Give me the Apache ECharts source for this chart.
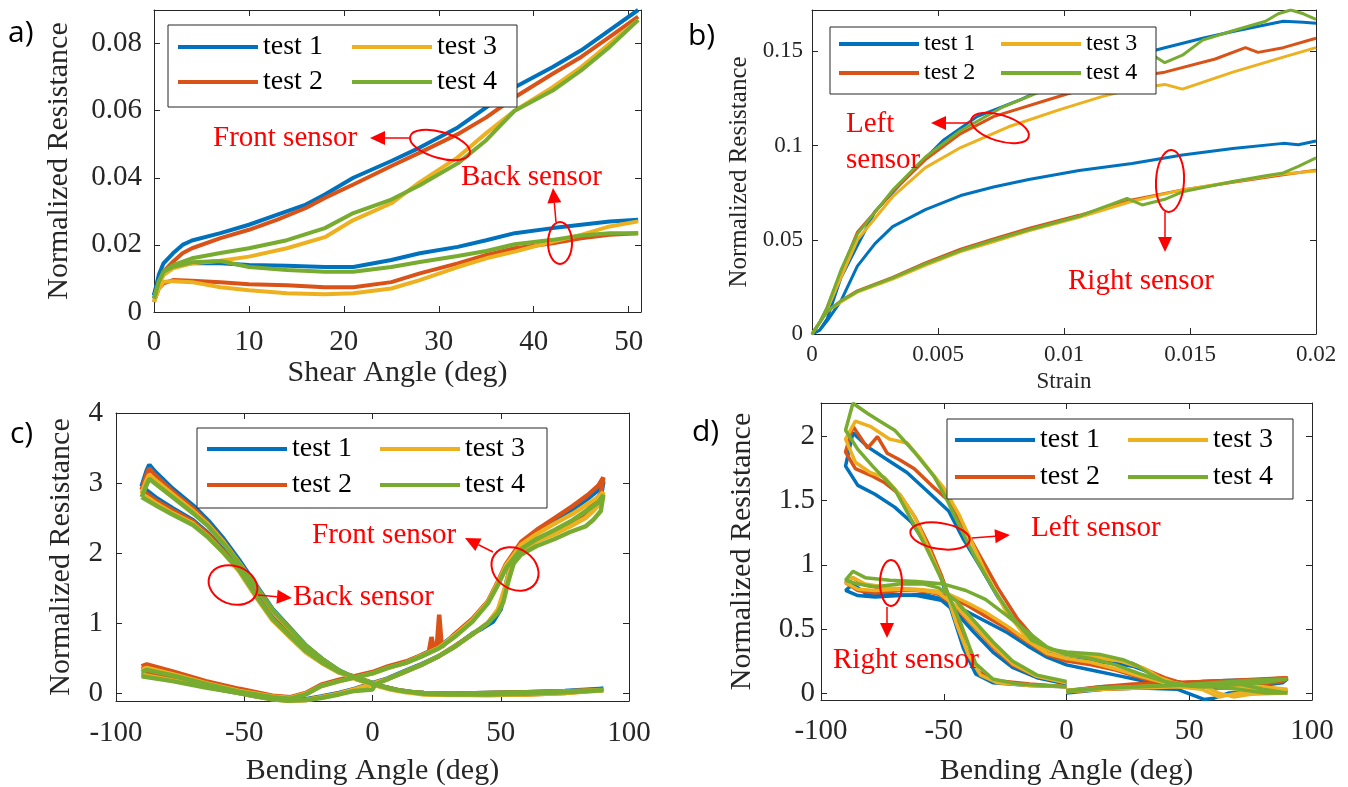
<!DOCTYPE html>
<html>
<head>
<meta charset="utf-8">
<script src="https://cdn.jsdelivr.net/npm/echarts@6/dist/echarts.min.js"></script>
<style>
html, body { margin: 0; padding: 0; background: #fff; }
#chart { width: 1348px; height: 787px; }
</style>
</head>
<body>
<div id="chart"></div>
<script>
var colors = ['#0072BD', '#D95319', '#EDB120', '#77AC30'];
var testNames = ['test 1', 'test 2', 'test 3', 'test 4'];

// a) shear angle (deg) vs normalized resistance
var aFront1 = [[0,0.005],[0.5,0.011],[1,0.0145],[2,0.0175],[3,0.02],[4,0.0213],[7,0.0235],[10,0.026],[13,0.029],[16,0.032],[18,0.035],[21,0.04],[25,0.045],[28,0.049],[32,0.055],[35,0.061],[38,0.067],[42,0.073],[45,0.078],[48,0.084],[51,0.09]];
var aFront2 = [[0,0.004],[0.5,0.009],[1,0.012],[2,0.015],[3,0.0175],[4,0.019],[7,0.022],[10,0.0245],[13,0.0275],[16,0.031],[18,0.034],[21,0.038],[25,0.0435],[28,0.0475],[32,0.053],[35,0.058],[38,0.064],[42,0.071],[45,0.076],[48,0.082],[51,0.088]];
var aFront3 = [[0,0.003],[0.5,0.008],[1,0.011],[2,0.013],[4,0.0145],[7,0.0153],[10,0.0165],[14,0.019],[18,0.0223],[21,0.0274],[25,0.0324],[28,0.0387],[32,0.0461],[35,0.0533],[38,0.06],[42,0.067],[45,0.073],[48,0.08],[51,0.087]];
var aFront4 = [[0,0.004],[0.5,0.009],[1,0.012],[2,0.014],[4,0.016],[7,0.0176],[10,0.019],[14,0.0214],[18,0.025],[21,0.0295],[25,0.0335],[28,0.0378],[32,0.0443],[35,0.0512],[38,0.06],[42,0.066],[45,0.072],[48,0.079],[51,0.087]];
var aBack1 = [[0,0.005],[0.5,0.01],[1,0.012],[2,0.014],[4,0.0145],[7,0.0145],[10,0.014],[14,0.0138],[18,0.0134],[21,0.0134],[25,0.0155],[28,0.0175],[32,0.0194],[35,0.0214],[38,0.0235],[42,0.025],[45,0.026],[48,0.027],[51,0.0275]];
var aBack2 = [[0,0.003],[0.5,0.007],[1,0.0085],[2,0.0095],[4,0.0093],[7,0.0089],[10,0.0083],[14,0.008],[18,0.0074],[21,0.0074],[25,0.0089],[28,0.0115],[32,0.0145],[35,0.017],[38,0.019],[42,0.0205],[45,0.022],[48,0.023],[51,0.0235]];
var aBack3 = [[0,0.003],[0.5,0.007],[1,0.009],[2,0.0092],[4,0.0089],[7,0.0074],[10,0.0065],[14,0.0056],[18,0.0053],[21,0.0056],[25,0.007],[28,0.0095],[32,0.0134],[35,0.016],[38,0.018],[42,0.021],[45,0.023],[48,0.0255],[51,0.027]];
var aBack4 = [[0,0.004],[0.5,0.009],[1,0.012],[2,0.0135],[4,0.0148],[7,0.0152],[10,0.0134],[14,0.0125],[18,0.012],[21,0.012],[25,0.0134],[28,0.0149],[32,0.0167],[35,0.0182],[38,0.0202],[42,0.0215],[45,0.0228],[48,0.0235],[51,0.0235]];

// b) strain vs normalized resistance
var bLeft1 = [[0,0],[0.0003,0.002],[0.0006,0.008],[0.00115,0.03],[0.0018,0.047],[0.0025,0.065],[0.00385,0.0846],[0.0052,0.1027],[0.00655,0.1154],[0.0083,0.1245],[0.01,0.135],[0.012,0.145],[0.014,0.152],[0.0155,0.157],[0.0167,0.1606],[0.0187,0.166],[0.0195,0.1655],[0.02,0.165]];
var bLeft2 = [[0,0],[0.0003,0.006],[0.0006,0.014],[0.00115,0.033],[0.0018,0.054],[0.0032,0.0755],[0.0045,0.0926],[0.0059,0.1064],[0.0072,0.1154],[0.0094,0.1245],[0.011,0.131],[0.0125,0.136],[0.014,0.139],[0.016,0.146],[0.0172,0.152],[0.0177,0.1495],[0.0187,0.152],[0.02,0.157]];
var bLeft3 = [[0,0],[0.0003,0.006],[0.0006,0.013],[0.00115,0.03],[0.0018,0.05],[0.0032,0.0729],[0.0045,0.0883],[0.0059,0.099],[0.0078,0.11],[0.0098,0.119],[0.0115,0.126],[0.0127,0.13],[0.014,0.1325],[0.0147,0.13],[0.0167,0.139],[0.0187,0.147],[0.02,0.152]];
var bLeft4 = [[0,0],[0.0003,0.006],[0.0006,0.014],[0.00115,0.034],[0.0018,0.053],[0.0032,0.0764],[0.0045,0.094],[0.0059,0.108],[0.0075,0.12],[0.0093,0.13],[0.011,0.138],[0.0125,0.146],[0.0133,0.15],[0.014,0.144],[0.0147,0.148],[0.0155,0.156],[0.0167,0.161],[0.018,0.166],[0.0185,0.17],[0.019,0.172],[0.0195,0.17],[0.02,0.167]];
var bRight1 = [[0,0],[0.0003,0.002],[0.0006,0.007],[0.00115,0.0176],[0.0018,0.036],[0.0025,0.048],[0.0032,0.057],[0.0045,0.066],[0.0059,0.0735],[0.0072,0.078],[0.0086,0.082],[0.0106,0.0868],[0.0127,0.0905],[0.0147,0.095],[0.0167,0.0985],[0.0187,0.1012],[0.0193,0.1005],[0.02,0.1025]];
var bRight2 = [[0,0],[0.0003,0.006],[0.0006,0.012],[0.00115,0.0176],[0.0018,0.0229],[0.0032,0.03],[0.0045,0.0378],[0.0059,0.045],[0.0072,0.0505],[0.0086,0.056],[0.0106,0.063],[0.0127,0.0712],[0.0147,0.0765],[0.0167,0.0805],[0.0187,0.0845],[0.02,0.087]];
var bRight3 = [[0,0],[0.0003,0.006],[0.0006,0.012],[0.00115,0.017],[0.0018,0.0222],[0.0032,0.0292],[0.0045,0.0365],[0.0059,0.0437],[0.0072,0.049],[0.0086,0.0548],[0.0106,0.062],[0.0127,0.0705],[0.0147,0.0765],[0.0167,0.0808],[0.0187,0.085],[0.02,0.0865]];
var bRight4 = [[0,0],[0.0003,0.006],[0.0006,0.012],[0.00115,0.0176],[0.0018,0.0226],[0.0032,0.0298],[0.0045,0.0372],[0.0059,0.0443],[0.0072,0.0498],[0.0086,0.0553],[0.0106,0.0625],[0.012,0.0695],[0.0125,0.072],[0.0131,0.0685],[0.014,0.0715],[0.0147,0.0755],[0.0167,0.081],[0.018,0.084],[0.0187,0.0855],[0.0193,0.089],[0.02,0.0935]];

// c) bending angle (deg) vs normalized resistance
var cFront1 = [[-90,0.34],[-88,0.37],[-78,0.28],[-65,0.15],[-52,0.04],[-39,-0.05],[-32,-0.07],[-26,-0.01],[-20,0.11],[-13,0.18],[-7,0.23],[0,0.29],[6,0.37],[13,0.44],[19,0.54],[26,0.66],[32,0.83],[39,1.04],[45,1.3],[49,1.58],[52,1.82],[58,2.14],[64,2.3],[71,2.46],[78,2.62],[84,2.78],[88,2.9],[90,3.02],[89,2.8],[86,2.66],[83,2.54],[77,2.4],[71,2.3],[64,2.2],[58,2.08],[54,1.85],[52,1.55],[50,1.2],[47,1.02],[43,0.93],[39,0.85],[32,0.66],[26,0.53],[19,0.41],[13,0.32],[6,0.21],[0,0.14],[-7,0.06],[-13,0],[-20,-0.05],[-26,-0.09],[-33,-0.1],[-39,-0.08],[-45,-0.05],[-52,0],[-65,0.09],[-78,0.19],[-90,0.26]];
var cFront2 = [[-90,0.38],[-88,0.41],[-78,0.31],[-65,0.17],[-52,0.06],[-39,-0.04],[-32,-0.06],[-26,0],[-20,0.12],[-13,0.19],[-7,0.24],[0,0.3],[6,0.38],[13,0.45],[19,0.54],[22,0.59],[23,0.8],[24,0.61],[25,0.63],[26,1.12],[27,0.66],[32,0.84],[39,1.06],[45,1.31],[49,1.6],[52,1.84],[58,2.16],[64,2.33],[71,2.5],[78,2.67],[84,2.83],[88,2.96],[90,3.08],[89,2.85],[86,2.7],[83,2.58],[77,2.42],[71,2.3],[64,2.18],[58,2.02],[54,1.8],[52,1.5],[49,1.18],[45,1],[39,0.84],[32,0.67],[26,0.53],[19,0.4],[13,0.31],[6,0.2],[0,0.13],[-7,0.05],[-13,-0.01],[-20,-0.06],[-26,-0.1],[-33,-0.1],[-39,-0.08],[-45,-0.04],[-52,0.01],[-65,0.11],[-78,0.21],[-90,0.3]];
var cFront3 = [[-90,0.33],[-88,0.36],[-78,0.27],[-65,0.14],[-52,0.03],[-39,-0.05],[-32,-0.07],[-26,-0.01],[-20,0.1],[-13,0.17],[-7,0.22],[0,0.28],[6,0.36],[13,0.43],[19,0.53],[26,0.65],[32,0.82],[39,1.04],[45,1.3],[49,1.58],[52,1.82],[58,2.12],[64,2.27],[71,2.42],[78,2.56],[84,2.7],[88,2.8],[90,2.87],[89,2.72],[86,2.6],[83,2.5],[77,2.38],[71,2.27],[64,2.17],[58,2.03],[54,1.82],[52,1.55],[49,1.2],[45,1],[39,0.84],[32,0.66],[26,0.53],[19,0.4],[13,0.31],[6,0.2],[0,0.13],[-7,0.05],[-13,-0.01],[-20,-0.06],[-26,-0.1],[-33,-0.11],[-39,-0.09],[-45,-0.05],[-52,0],[-65,0.09],[-78,0.18],[-90,0.26]];
var cFront4 = [[-90,0.3],[-88,0.33],[-78,0.25],[-65,0.13],[-52,0.02],[-39,-0.06],[-32,-0.08],[-26,-0.02],[-20,0.1],[-13,0.17],[-7,0.22],[0,0.28],[6,0.36],[13,0.43],[19,0.52],[26,0.64],[32,0.8],[39,1.02],[45,1.28],[49,1.55],[52,1.78],[58,2.06],[64,2.2],[71,2.33],[78,2.47],[84,2.62],[88,2.72],[90,2.83],[89,2.6],[86,2.47],[83,2.38],[77,2.3],[71,2.2],[64,2.1],[58,1.98],[55,1.85],[53,1.6],[51,1.3],[49,1.15],[45,1],[39,0.84],[32,0.66],[26,0.53],[19,0.4],[13,0.31],[6,0.2],[1,0.12],[0,0.05],[-7,0.03],[-13,-0.02],[-20,-0.07],[-26,-0.1],[-33,-0.11],[-39,-0.09],[-45,-0.05],[-52,0],[-65,0.08],[-78,0.17],[-90,0.24]];
var cBack1 = [[-90,2.95],[-88,3.18],[-87,3.26],[-85,3.17],[-78,2.92],[-70,2.68],[-64,2.46],[-58,2.2],[-52,1.9],[-45,1.52],[-39,1.2],[-32,0.92],[-26,0.68],[-19,0.47],[-13,0.32],[-6,0.2],[0,0.13],[7,0.06],[13,0.02],[20,0],[30,-0.01],[45,0],[60,0.01],[75,0.03],[90,0.06],[75,0.01],[60,-0.01],[45,-0.02],[30,-0.02],[20,-0.01],[10,0.04],[3,0.1],[0,0.14],[-6,0.22],[-13,0.3],[-19,0.43],[-26,0.6],[-32,0.82],[-39,1.07],[-45,1.38],[-52,1.77],[-58,2.04],[-64,2.28],[-70,2.47],[-78,2.64],[-84,2.78],[-90,2.95]];
var cBack2 = [[-90,2.9],[-88,3.13],[-87,3.21],[-85,3.12],[-78,2.88],[-70,2.64],[-64,2.42],[-58,2.16],[-52,1.86],[-45,1.49],[-39,1.17],[-32,0.9],[-26,0.67],[-19,0.46],[-13,0.31],[-6,0.2],[0,0.13],[7,0.06],[13,0.02],[20,0],[30,-0.01],[45,0],[60,0.01],[75,0.02],[90,0.05],[75,0],[60,-0.02],[45,-0.03],[30,-0.02],[20,-0.01],[10,0.04],[3,0.1],[0,0.14],[-6,0.22],[-13,0.3],[-19,0.42],[-26,0.59],[-32,0.8],[-39,1.05],[-45,1.36],[-52,1.75],[-58,2.02],[-64,2.26],[-70,2.45],[-78,2.61],[-84,2.74],[-90,2.9]];
var cBack3 = [[-90,2.85],[-88,3.05],[-87,3.12],[-85,3.05],[-78,2.84],[-70,2.6],[-64,2.4],[-58,2.15],[-52,1.86],[-45,1.5],[-39,1.18],[-32,0.9],[-26,0.67],[-19,0.46],[-13,0.31],[-6,0.19],[0,0.12],[7,0.05],[13,0.01],[20,-0.01],[30,-0.02],[45,-0.01],[60,0],[75,0.02],[90,0.04],[75,0],[60,-0.02],[45,-0.03],[30,-0.03],[20,-0.02],[10,0.03],[3,0.09],[0,0.13],[-6,0.21],[-13,0.29],[-19,0.41],[-26,0.58],[-32,0.79],[-39,1.04],[-45,1.35],[-52,1.74],[-58,2],[-64,2.23],[-70,2.42],[-78,2.57],[-84,2.7],[-90,2.85]];
var cBack4 = [[-90,2.8],[-88,2.98],[-87,3.06],[-85,3],[-78,2.8],[-70,2.57],[-64,2.38],[-58,2.13],[-52,1.85],[-45,1.5],[-39,1.19],[-32,0.91],[-26,0.68],[-19,0.47],[-13,0.32],[-6,0.2],[0,0.13],[7,0.06],[13,0.02],[20,0],[30,-0.01],[45,0],[60,0.01],[75,0.02],[90,0.04],[75,0.01],[60,-0.01],[45,-0.02],[30,-0.02],[20,-0.01],[10,0.04],[3,0.1],[0,0.14],[-6,0.22],[-13,0.3],[-19,0.42],[-26,0.6],[-32,0.81],[-39,1.06],[-45,1.37],[-52,1.76],[-58,2],[-64,2.22],[-70,2.4],[-78,2.55],[-84,2.67],[-90,2.8]];

// d) bending angle (deg) vs normalized resistance
var dLeft1 = [[0,0.015],[14,0.05],[27,0.06],[41,0.07],[55,0.09],[68,0.1],[90,0.11],[88,0.08],[80,0.06],[68,0.05],[60,0.04],[54,0.06],[45,0.08],[40,0.11],[34,0.16],[27,0.21],[20,0.23],[10,0.25],[0,0.27],[-6,0.3],[-11,0.34],[-20,0.53],[-28,0.75],[-35,0.98],[-42,1.2],[-48,1.42],[-57,1.58],[-65,1.72],[-73,1.82],[-81,1.92],[-87,2.03],[-90,1.77],[-85,1.62],[-78,1.55],[-70,1.45],[-63,1.33],[-57,1.15],[-52,0.95],[-47,0.65],[-42,0.35],[-37,0.15],[-30,0.08],[-15,0.06],[0,0.05]];
var dLeft2 = [[0,0.02],[14,0.05],[27,0.07],[41,0.08],[55,0.09],[68,0.1],[90,0.12],[88,0.09],[80,0.07],[68,0.06],[58,0.06],[50,0.07],[45,0.09],[40,0.12],[34,0.17],[27,0.23],[20,0.26],[10,0.28],[0,0.3],[-6,0.33],[-11,0.38],[-20,0.58],[-28,0.82],[-35,1.06],[-42,1.3],[-48,1.5],[-55,1.62],[-62,1.75],[-68,1.82],[-73,1.87],[-77,2],[-81,1.91],[-87,2.08],[-90,1.88],[-86,1.75],[-80,1.7],[-74,1.64],[-68,1.55],[-62,1.38],[-56,1.15],[-51,0.92],[-46,0.65],[-41,0.35],[-36,0.17],[-30,0.1],[-15,0.07],[0,0.05]];
var dLeft3 = [[0,0.02],[14,0.04],[27,0.05],[41,0.06],[55,0.06],[62,0],[68,-0.03],[75,-0.01],[90,0],[85,0.02],[75,0.04],[62,0.05],[50,0.06],[44,0.08],[38,0.12],[32,0.19],[22,0.25],[12,0.28],[0,0.3],[-8,0.34],[-17,0.45],[-25,0.65],[-32,0.9],[-38,1.15],[-44,1.4],[-50,1.6],[-55,1.72],[-60,1.84],[-65,1.95],[-72,1.98],[-80,2.08],[-86,2.12],[-90,1.98],[-86,1.8],[-80,1.72],[-74,1.68],[-68,1.55],[-62,1.38],[-56,1.12],[-50,0.85],[-45,0.55],[-40,0.3],[-35,0.14],[-28,0.08],[-15,0.06],[0,0.05]];
var dLeft4 = [[0,0.02],[14,0.04],[27,0.05],[41,0.06],[55,0.07],[68,0.08],[80,0.03],[90,0],[81,0],[70,0.03],[60,0.05],[54,0.05],[47,0.06],[41,0.08],[34,0.15],[28,0.22],[23,0.26],[14,0.3],[0,0.32],[-6,0.34],[-14,0.41],[-22,0.59],[-30,0.82],[-37,1.05],[-43,1.28],[-49,1.52],[-54,1.69],[-62,1.88],[-70,2.05],[-76,2.12],[-81,2.18],[-87,2.26],[-90,2.05],[-85,1.9],[-79,1.77],[-70,1.59],[-64,1.38],[-57,1.13],[-50,0.85],[-43,0.54],[-37,0.23],[-30,0.11],[-20,0.07],[0,0.05]];
var dRight1 = [[0,0],[15,0.03],[30,0.04],[45,0.03],[52,-0.02],[56,-0.05],[60,-0.04],[66,0],[80,0.01],[90,0.02],[80,0.03],[65,0.04],[50,0.05],[40,0.06],[30,0.1],[20,0.14],[10,0.18],[0,0.22],[-8,0.28],[-16,0.37],[-24,0.47],[-33,0.56],[-41,0.64],[-50,0.72],[-61,0.76],[-72,0.77],[-82,0.78],[-87,0.85],[-90,0.8],[-85,0.76],[-78,0.75],[-68,0.76],[-58,0.77],[-52,0.74],[-45,0.63],[-38,0.48],[-30,0.32],[-22,0.2],[-12,0.12],[0,0.07]];
var dRight2 = [[0,0.01],[15,0.03],[30,0.04],[45,0.05],[60,0.07],[75,0.1],[90,0.12],[80,0.1],[65,0.07],[50,0.05],[40,0.07],[30,0.12],[20,0.18],[10,0.22],[0,0.25],[-8,0.3],[-16,0.4],[-24,0.5],[-33,0.6],[-41,0.69],[-50,0.77],[-61,0.8],[-72,0.81],[-82,0.84],[-87,0.9],[-90,0.86],[-85,0.8],[-78,0.78],[-68,0.8],[-58,0.8],[-52,0.77],[-45,0.67],[-38,0.52],[-30,0.36],[-22,0.22],[-12,0.13],[0,0.08]];
var dRight3 = [[0,0.01],[15,0.03],[30,0.04],[45,0.05],[55,0.03],[62,-0.03],[70,0],[80,0.02],[90,0.03],[80,0.05],[65,0.06],[50,0.06],[40,0.08],[30,0.13],[20,0.19],[10,0.24],[0,0.27],[-8,0.31],[-16,0.41],[-24,0.52],[-33,0.63],[-41,0.71],[-50,0.79],[-61,0.81],[-72,0.82],[-82,0.85],[-87,0.9],[-90,0.86],[-85,0.81],[-78,0.8],[-68,0.81],[-58,0.8],[-52,0.78],[-45,0.68],[-38,0.53],[-30,0.37],[-22,0.23],[-12,0.13],[0,0.08]];
var dRight4 = [[0,0.01],[15,0.04],[30,0.05],[45,0.06],[60,0.08],[75,0.1],[90,0.11],[80,0.08],[65,0.06],[50,0.06],[40,0.09],[30,0.15],[20,0.22],[10,0.27],[0,0.3],[-8,0.36],[-16,0.48],[-24,0.6],[-33,0.73],[-41,0.8],[-50,0.85],[-61,0.87],[-72,0.88],[-82,0.9],[-87,0.95],[-90,0.88],[-85,0.85],[-78,0.83],[-68,0.85],[-58,0.85],[-52,0.82],[-45,0.72],[-38,0.57],[-30,0.4],[-22,0.25],[-12,0.14],[0,0.09]];

var serif = 'Liberation Serif';
var axisColor = '#262626';

function tickFmt(step) {
	return function (v) {
		var k = v / step;
		if (Math.abs(k - Math.round(k)) > 1e-6) return '';
		return String(parseFloat(v.toFixed(6)));
	};
}

function makeAxes(g, xr, yr) {
	var line = { show: true, onZero: false, lineStyle: { color: axisColor, width: 1 } };
	var tick = { show: true, inside: true, length: 6, lineStyle: { color: axisColor } };
	var xBase = { gridIndex: g, type: 'value', min: xr.min, max: xr.max, interval: xr.interval,
		axisLine: line, axisTick: tick, splitLine: { show: false } };
	var yBase = { gridIndex: g, type: 'value', min: yr.min, max: yr.max,
		axisLine: line, axisTick: tick, splitLine: { show: false } };
	if (yr.interval) yBase.interval = yr.interval; else yBase.splitNumber = yr.split;
	var xb = Object.assign({}, xBase, {
		position: 'bottom',
		axisLabel: { show: true, margin: xr.margin, fontFamily: serif, fontSize: xr.size, color: axisColor, formatter: tickFmt(xr.step) },
		name: xr.name, nameLocation: 'middle', nameGap: xr.gap,
		nameTextStyle: { fontFamily: serif, fontSize: xr.nameSize, color: axisColor }
	});
	var xt = Object.assign({}, xBase, { position: 'top', axisLabel: { show: false } });
	var yl = Object.assign({}, yBase, {
		position: 'left',
		axisLabel: { show: true, margin: yr.margin, fontFamily: serif, fontSize: yr.size, color: axisColor, formatter: tickFmt(yr.step) },
		name: 'Normalized Resistance', nameLocation: 'middle', nameGap: yr.gap, nameRotate: 90,
		nameTextStyle: { fontFamily: serif, fontSize: yr.nameSize, color: axisColor }
	});
	var yrt = Object.assign({}, yBase, { position: 'right', axisLabel: { show: false } });
	return { x: [xb, xt], y: [yl, yrt] };
}

function panelSeries(g, groups, width) {
	var out = [];
	for (var i = 0; i < 4; i++) {
		for (var k = 0; k < groups.length; k++) {
			out.push({
				name: testNames[i], type: 'line', xAxisIndex: g * 2, yAxisIndex: g * 2,
				data: groups[k][i], symbol: 'none', showSymbol: false, z: 2,
				lineStyle: { width: width, color: colors[i] }, itemStyle: { color: colors[i] }
			});
		}
	}
	return out;
}

function legendItem(name, left, rowY, size) {
	return {
		data: [name], left: left, top: rowY - size / 2, padding: 0, orient: 'horizontal',
		icon: 'rect', itemWidth: 80, itemHeight: 4, itemGap: 0, selectedMode: false,
		textStyle: { fontFamily: serif, fontSize: size, color: '#000' }, z: 5
	};
}

function legendSet(c1, c2, r1, r2, size) {
	return [legendItem('test 1', c1, r1, size), legendItem('test 3', c2, r1, size),
		legendItem('test 2', c1, r2, size), legendItem('test 4', c2, r2, size)];
}

function box(x, y, w, h) {
	return { type: 'rect', z: 3, shape: { x: x, y: y, width: w, height: h },
		style: { fill: '#fff', stroke: axisColor, lineWidth: 1 } };
}

function note(s, x, y) {
	return { type: 'text', x: x, y: y, z: 10,
		style: { text: s, fill: '#ff0000', font: '29px Liberation Serif', textAlign: 'left', textVerticalAlign: 'middle', align: 'left', verticalAlign: 'middle' } };
}

function panelTag(s, x, y) {
	return { type: 'text', x: x, y: y, z: 10,
		style: { text: s, fill: '#000', font: '30px Open Sans', textAlign: 'left', textVerticalAlign: 'middle', align: 'left', verticalAlign: 'middle' } };
}

function ring(cx, cy, rx, ry, rot) {
	return { type: 'ellipse', x: cx, y: cy, rotation: rot, z: 10,
		shape: { cx: 0, cy: 0, rx: rx, ry: ry },
		style: { fill: 'none', stroke: '#ff0000', lineWidth: 2 } };
}

function arrow(x1, y1, x2, y2) {
	var dx = x2 - x1, dy = y2 - y1, len = Math.sqrt(dx * dx + dy * dy);
	var ux = dx / len, uy = dy / len, hl = 15, hw = 7;
	var bx = x2 - ux * hl, by = y2 - uy * hl;
	return [
		{ type: 'line', z: 10, shape: { x1: x1, y1: y1, x2: bx, y2: by }, style: { stroke: '#ff0000', lineWidth: 1.5 } },
		{ type: 'polygon', z: 10, shape: { points: [[x2, y2], [bx - uy * hw, by + ux * hw], [bx + uy * hw, by - ux * hw]] }, style: { fill: '#ff0000' } }
	];
}

var axA = makeAxes(0, { min: 0, max: 51.3, interval: 10, step: 10, margin: 16, size: 29, name: 'Shear Angle (deg)', gap: 45, nameSize: 30 },
	{ min: 0, max: 0.09, interval: 0.02, step: 0.02, margin: 12, size: 29, gap: 80, nameSize: 30 });
var axB = makeAxes(1, { min: 0, max: 0.02, interval: 0.005, step: 0.005, margin: 9, size: 23, name: 'Strain', gap: 36, nameSize: 23 },
	{ min: 0, max: 0.172, interval: 0.05, step: 0.05, margin: 9, size: 23, gap: 60, nameSize: 25 });
var axC = makeAxes(2, { min: -100, max: 100, interval: 50, step: 50, margin: 18, size: 29, name: 'Bending Angle (deg)', gap: 55, nameSize: 30 },
	{ min: -0.114, max: 4, split: 4, step: 1, margin: 13, size: 29, gap: 40, nameSize: 30 });
var axD = makeAxes(3, { min: -100, max: 100, interval: 50, step: 50, margin: 17, size: 29, name: 'Bending Angle (deg)', gap: 56, nameSize: 30 },
	{ min: -0.054, max: 2.262, split: 5, step: 0.5, margin: 6, size: 29, gap: 64, nameSize: 30 });

var series = [].concat(
	panelSeries(0, [[aFront1, aFront2, aFront3, aFront4], [aBack1, aBack2, aBack3, aBack4]], 4),
	panelSeries(1, [[bLeft1, bLeft2, bLeft3, bLeft4], [bRight1, bRight2, bRight3, bRight4]], 3),
	panelSeries(2, [[cFront1, cFront2, cFront3, cFront4], [cBack1, cBack2, cBack3, cBack4]], 4.5),
	panelSeries(3, [[dLeft1, dLeft2, dLeft3, dLeft4], [dRight1, dRight2, dRight3, dRight4]], 3.5)
);

var graphics = [
	box(168, 25, 349, 82), box(830, 27, 326, 67), box(197, 428, 350, 80), box(947, 419, 346, 80),
	panelTag('a)', 8, 33), panelTag('b)', 688, 36), panelTag('c)', 10, 434), panelTag('d)', 692, 432),
	// a)
	note('Front sensor', 213, 138), ring(440, 145, 31, 13, -0.28),
	note('Back sensor', 461, 177), ring(560, 243, 12, 21, 0),
	// b)
	note('Left', 846, 124), note('sensor', 846, 160), ring(1000, 128, 30, 13, -0.3),
	ring(1170, 181, 14, 31, -0.05), note('Right sensor', 1068, 281),
	// c)
	note('Front sensor', 312, 535), ring(515, 569, 25, 20, -0.6),
	note('Back sensor', 293, 597), ring(233, 585, 25, 19, -0.35),
	// d)
	note('Left sensor', 1031, 528), ring(940, 536, 30, 13, -0.15),
	note('Right sensor', 833, 660), ring(891, 583, 11, 23, 0)
].concat(
	arrow(409, 138, 370, 138), arrow(556, 222, 553, 188),
	arrow(969, 123, 931, 123), arrow(1165, 212, 1165, 252),
	arrow(493, 552, 465, 538), arrow(258, 595, 292, 598),
	arrow(972, 538, 1010, 535), arrow(887, 607, 887, 638)
);

var option = {
	animation: false,
	backgroundColor: '#fff',
	grid: [
		{ left: 154, top: 10, width: 487, height: 302 },
		{ left: 812, top: 10, width: 504, height: 324 },
		{ left: 116, top: 413, width: 513, height: 289 },
		{ left: 821, top: 403, width: 491, height: 301 }
	],
	xAxis: [].concat(axA.x, axB.x, axC.x, axD.x),
	yAxis: [].concat(axA.y, axB.y, axC.y, axD.y),
	legend: [].concat(
		legendSet(178, 352, 47, 82, 28),
		legendSet(839, 1001, 44, 73, 24),
		legendSet(207, 380, 449, 485, 28),
		legendSet(955, 1128, 440, 477, 28)
	),
	graphic: graphics,
	series: series
};

var chart = echarts.init(document.getElementById('chart'));
chart.setOption(option);
</script>
</body>
</html>
